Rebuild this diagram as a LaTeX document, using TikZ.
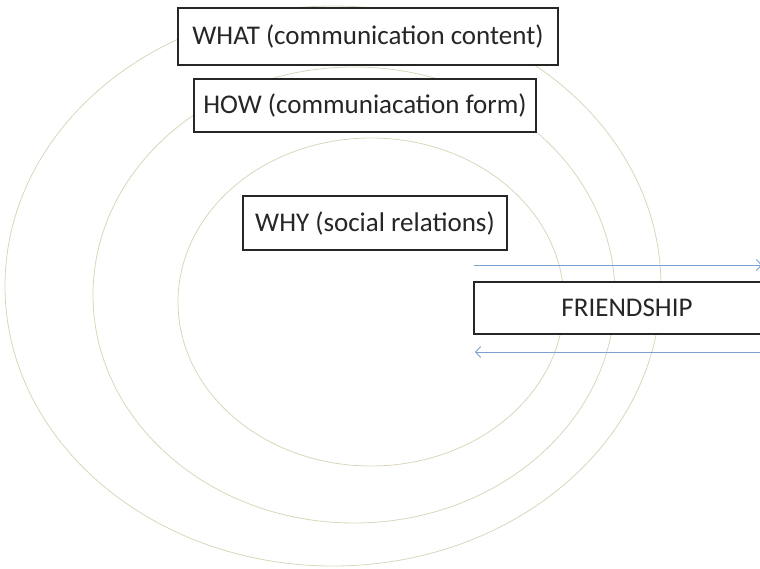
\documentclass[tikz,border=0pt]{standalone}
\usepackage{fontspec}
\setmainfont{Carlito}
\usetikzlibrary{arrows.meta}
\definecolor{ringtan}{RGB}{218,213,188}
\definecolor{flowblue}{RGB}{125,160,210}
\tikzset{
	ring/.style={draw=ringtan, line width=0.8pt},
	layer/.style={draw=black!85, line width=1.3pt, fill=white, inner sep=0pt,
		font=\fontsize{27}{31}\selectfont, text=black!85},
	flow/.style={draw=flowblue, line width=0.9pt, -{Straight Barb[length=5pt,width=11pt]}}
}

\begin{document}
\begin{tikzpicture}[x=1pt,y=-1pt]
		\useasboundingbox (0,0) rectangle (760,568);
		\clip (0,0) rectangle (760,568);
		%\fill[white] (0,0) rectangle (760,568);
		\draw[ring] (333,286) ellipse [x radius=328, y radius=280];
		\draw[ring] (354,295) ellipse [x radius=261, y radius=228];
		\draw[ring] (371,302) ellipse [x radius=193, y radius=164];
		\node[layer, minimum width=380, minimum height=57] (what) at (368,36.5) {WHAT (communication content)};
		\node[layer, minimum width=342, minimum height=53] (how) at (365,105.5) {HOW (communiacation form)};
		\node[layer, minimum width=264, minimum height=54] (why) at (375,223) {WHY (social relations)};
		\node[layer, minimum width=306, minimum height=52] (friend) at (627,308) {FRIENDSHIP};
		\coordinate (outA) at (474,265);
		\coordinate (outB) at (762,265);
		\coordinate (backA) at (768,352);
		\coordinate (backB) at (475,352);
		\draw[flow] (outA) -- (outB);
		\draw[flow] (backA) -- (backB);
	\end{tikzpicture}
\end{document}
